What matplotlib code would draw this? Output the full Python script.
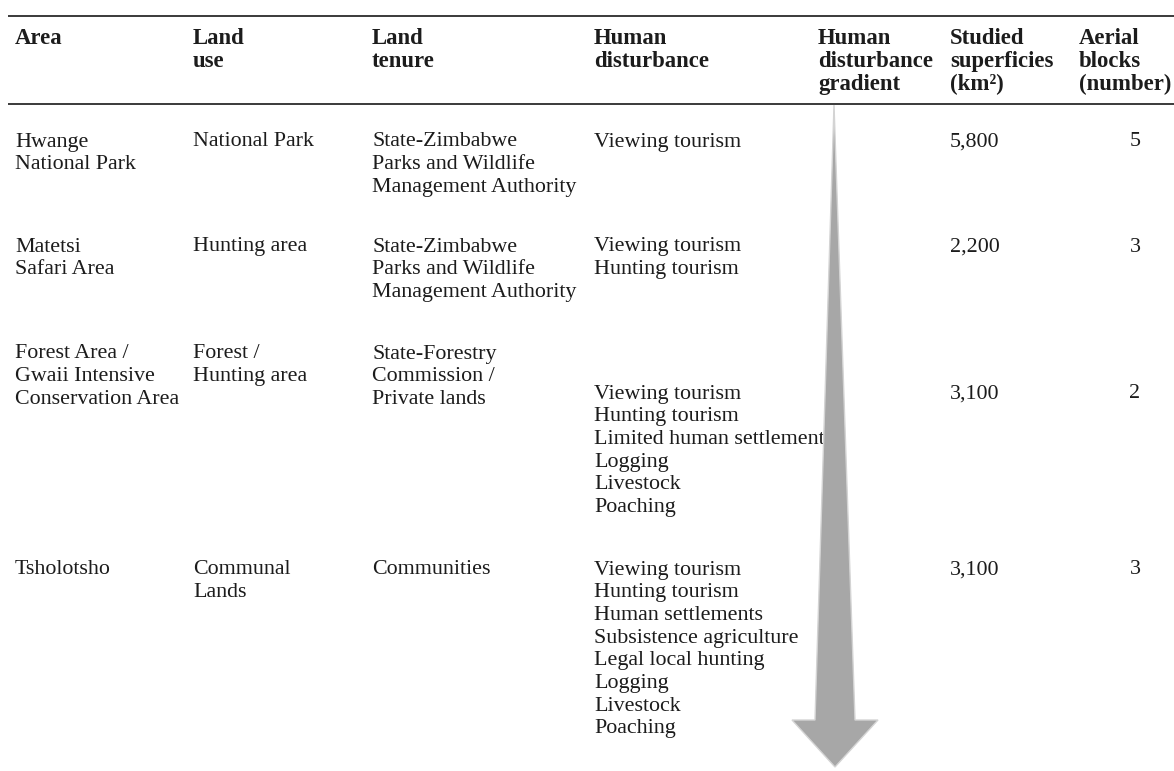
import matplotlib.pyplot as plt
from matplotlib.patches import Polygon

# table content
headers = [
    ["Area"],
    ["Land", "use"],
    ["Land", "tenure"],
    ["Human", "disturbance"],
    ["Human", "disturbance", "gradient"],
    ["Studied", "superficies", "(km²)"],
    ["Aerial", "blocks", "(number)"],
]

areas = [
    ["Hwange", "National Park"],
    ["Matetsi", "Safari Area"],
    ["Forest Area /", "Gwaii Intensive", "Conservation Area"],
    ["Tsholotsho"],
]
land_use = [
    ["National Park"],
    ["Hunting area"],
    ["Forest /", "Hunting area"],
    ["Communal", "Lands"],
]
land_tenure = [
    ["State-Zimbabwe", "Parks and Wildlife", "Management Authority"],
    ["State-Zimbabwe", "Parks and Wildlife", "Management Authority"],
    ["State-Forestry", "Commission /", "Private lands"],
    ["Communities"],
]
disturbance = [
    ["Viewing tourism"],
    ["Viewing tourism", "Hunting tourism"],
    ["Viewing tourism", "Hunting tourism", "Limited human settlement",
     "Logging", "Livestock", "Poaching"],
    ["Viewing tourism", "Hunting tourism", "Human settlements",
     "Subsistence agriculture", "Legal local hunting", "Logging",
     "Livestock", "Poaching"],
]
superficies = ["5,800", "2,200", "3,100", "3,100"]
aerial_blocks = [5, 3, 2, 3]

# layout (pixels)
W, H = 1174, 771
col_x = [15, 193, 372, 594, 818, 950, 1079]
blocks_x = 1135
row_y = [142, 247, 354, 570]
dist_y = [142, 247, 394, 570]   # disturbance/values start lower in row 3
line_h = 22.7
head_y = 38.5
head_h = 23.0
fs = 15.8
fs_head = 16.4
ink = "#1c1c1c"

plt.rcParams["font.family"] = ["Liberation Serif", "DejaVu Serif"]

fig = plt.figure(figsize=(W / 100, H / 100), dpi=100)
ax = fig.add_axes([0, 0, 1, 1])
ax.set_xlim(0, W)
ax.set_ylim(H, 0)
ax.axis("off")


def put_lines(x, y0, lines, ha="left"):
    for i, s in enumerate(lines):
        ax.text(x, y0 + i * line_h, s, va="center", ha=ha,
                fontsize=fs, color=ink, zorder=2)


# header
for x, lines in zip(col_x, headers):
    for i, s in enumerate(lines):
        ax.text(x, head_y + i * head_h, s, va="center", ha="left",
                fontsize=fs_head, fontweight="bold", color=ink)

# rules
ax.plot([8, W], [16, 16], color="#3a3a3a", lw=1.4, solid_capstyle="butt")
ax.plot([8, W], [104, 104], color="#3a3a3a", lw=1.4, solid_capstyle="butt")

# body
for r in range(len(areas)):
    put_lines(col_x[0], row_y[r], areas[r])
    put_lines(col_x[1], row_y[r], land_use[r])
    put_lines(col_x[2], row_y[r], land_tenure[r])
    put_lines(col_x[3], dist_y[r], disturbance[r])
    put_lines(col_x[5], dist_y[r], [superficies[r]])
    put_lines(blocks_x, dist_y[r], [str(aerial_blocks[r])], ha="center")

# gradient arrow, drawn over the text
arrow = Polygon([(834, 105), (855, 720), (878, 720), (835, 767),
                 (792, 720), (815, 720)], closed=True,
                facecolor="#a7a7a7", edgecolor="#d4d4d4", lw=1.0, zorder=5)
ax.add_patch(arrow)

fig.savefig("out.png", dpi=100)
